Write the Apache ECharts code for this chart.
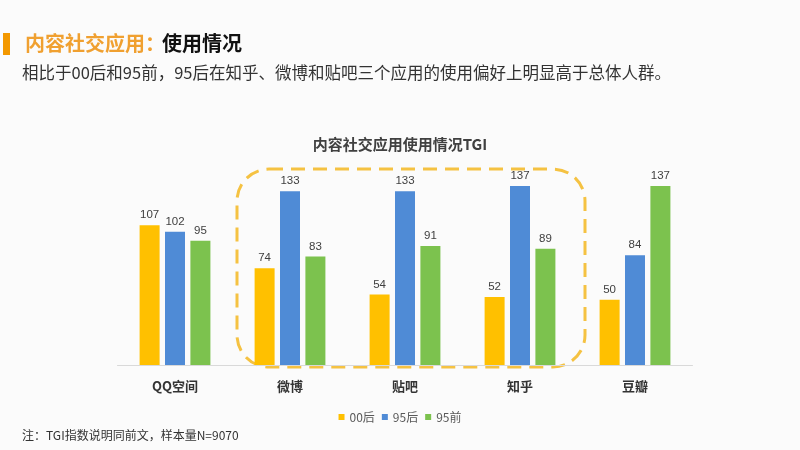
<!DOCTYPE html>
<html><head><meta charset="utf-8">
<script src="https://cdn.jsdelivr.net/npm/echarts@6/dist/echarts.min.js"></script>
<style>html,body{margin:0;padding:0;background:#fbfbfb;}#c{width:800px;height:450px;}</style>
</head><body><div id="c"></div>
<script>
const categories = ['QQ空间','微博','贴吧','知乎','豆瓣'];
const seriesNames = ['00后','95后','95前'];
const s00 = [107, 74, 54, 52, 50];
const s95h = [102, 133, 133, 137, 84];
const s95q = [95, 83, 91, 89, 137];
const colors = ['#FFC000','#4F8BD6','#7CC24E'];

const chart = echarts.init(document.getElementById('c'));
const font = '"Microsoft YaHei","Noto Sans CJK SC",sans-serif';
const mk = (name, data, i) => ({
  name, type:'bar', data, barWidth:20, barGap:'27%',
  itemStyle:{color:colors[i]},
  label:{show:true, position:'top', distance:4, color:'#404040', fontSize:11.5, fontFamily:'Arial, "Liberation Sans", sans-serif'}
});
chart.setOption({
  backgroundColor:'#fbfbfb',
  animation:false,
  textStyle:{fontFamily:font},
  title:{text:'内容社交应用使用情况TGI', left:'center', top:132,
    textStyle:{fontSize:15, fontWeight:'bold', color:'#404040', fontFamily:font}},
  legend:{data:seriesNames, top:406, left:'center', icon:'rect', itemWidth:6, itemHeight:6, itemGap:7,
    textStyle:{fontSize:12, color:'#595959', fontFamily:font}},
  grid:{left:117.5, right:107.5, top:169, bottom:85, containLabel:false},
  xAxis:{type:'category', data:categories,
    axisLine:{lineStyle:{color:'#d9d9d9'}}, axisTick:{show:false},
    axisLabel:{fontSize:13, fontWeight:'bold', color:'#333', margin:15, fontFamily:font}},
  yAxis:{type:'value', min:0, max:150, show:false, splitLine:{show:false}},
  series:[mk(seriesNames[0], s00, 0), mk(seriesNames[1], s95h, 1), mk(seriesNames[2], s95q, 2)]
});

const pL = chart.convertToPixel({gridIndex:0}, [1, 153]);
const pR = chart.convertToPixel({gridIndex:0}, [3, 0]);
const x0 = pL[0] - 53, y0 = pL[1] + 4, x1 = pR[0] + 65, y1 = pR[1] + 2;

chart.setOption({graphic:[
  {type:'rect', left:3, top:33, shape:{width:7, height:22}, style:{fill:'#F39800'}},
  {type:'text', left:25, top:33, style:{text:'内容社交应用：', fill:'#F0A030', font:'bold 20px '+font}},
  {type:'text', left:162, top:33, style:{text:'使用情况', fill:'#111', font:'bold 20px '+font}},
  {type:'text', left:22, top:64, style:{text:'相比于00后和95前，95后在知乎、微博和贴吧三个应用的使用偏好上明显高于总体人群。', font:'16.5px '+font, fill:'#333'}},
  {type:'text', left:22, top:429, style:{text:'注：TGI指数说明同前文，样本量N=9070', font:'12px '+font, fill:'#333'}},
  {type:'rect', shape:{x:x0, y:y0, width:x1-x0, height:y1-y0, r:32}, z:-1,
    style:{fill:'none', stroke:'#F5C242', lineWidth:3, lineDash:[14,8]}}
]});
</script></body></html>
